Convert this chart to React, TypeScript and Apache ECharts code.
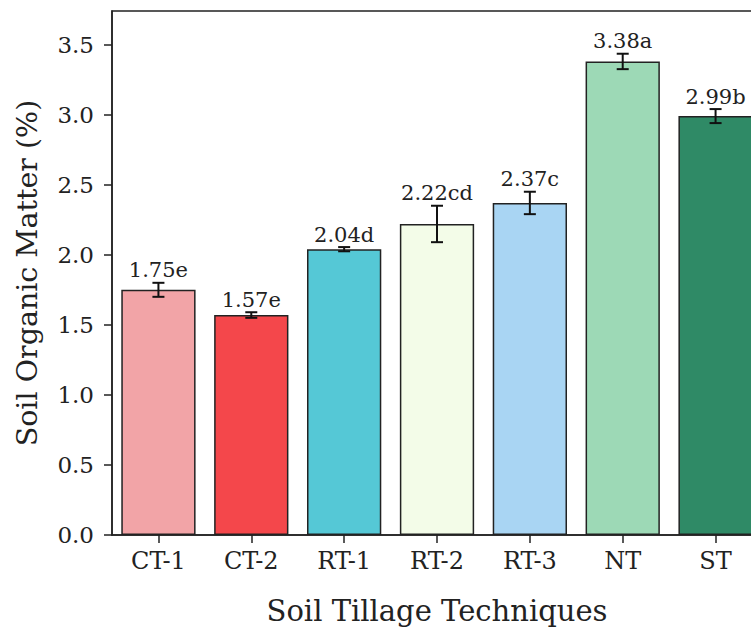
import React, { useEffect, useRef } from "react";
import * as echarts from "echarts";

const categories = ["CT-1", "CT-2", "RT-1", "RT-2", "RT-3", "NT", "ST"];
const means = [1.75, 1.57, 2.04, 2.22, 2.37, 3.38, 2.99];
const errors = [0.05, 0.02, 0.015, 0.13, 0.08, 0.055, 0.05];
const letters = ["e", "e", "d", "cd", "c", "a", "b"];
const colors = ["#F2A4A7", "#F4474B", "#55C8D6", "#F3FCE8", "#A9D5F3", "#9DD9B6", "#2F8A66"];

const FONT = "'DejaVu Serif', 'Liberation Serif', serif";

export default function App() {
  const ref = useRef<HTMLDivElement>(null);
  useEffect(() => {
    if (!ref.current) return;
    const chart = echarts.init(ref.current, undefined, { renderer: "svg" });
    const errData = means.map((m, i) => [i, m, errors[i]]);
    chart.setOption({
      animation: false,
      backgroundColor: "#ffffff",
      grid: {
        left: 112,
        top: 11,
        right: -11,
        bottom: 100,
        outerBoundsMode: "none",
        containLabel: false,
        show: true,
        borderColor: "#222222",
        borderWidth: 1.5,
        backgroundColor: "transparent",
      },
      xAxis: {
        type: "category",
        data: categories,
        boundaryGap: true,
        name: "Soil Tillage Techniques",
        nameLocation: "middle",
        nameGap: 61,
        nameTextStyle: { fontFamily: FONT, fontSize: 29, color: "#222" },
        axisLine: { lineStyle: { color: "#222", width: 1.5 } },
        axisTick: { show: true, alignWithLabel: true, length: 8, lineStyle: { color: "#222", width: 1.5 } },
        axisLabel: { fontFamily: FONT, fontSize: 24, color: "#222", margin: 14 },
        splitLine: { show: false },
      },
      yAxis: {
        type: "value",
        min: 0,
        max: 3.74,
        interval: 0.5,
        name: "Soil Organic Matter (%)",
        nameLocation: "middle",
        nameGap: 70,
        nameTextStyle: { fontFamily: FONT, fontSize: 28.5, color: "#222", padding: [0, 0, 0, 0] },
        axisLine: { show: true, lineStyle: { color: "#222", width: 1.5 } },
        axisTick: { show: true, length: 8, lineStyle: { color: "#222", width: 1.5 } },
        axisLabel: {
          fontFamily: FONT,
          fontSize: 23,
          color: "#222",
          margin: 18,
          showMaxLabel: false,
          formatter: (v: number) => v.toFixed(1),
        },
        splitLine: { show: false },
      },
      series: [
        {
          type: "bar",
          data: means.map((m, i) => ({
            value: m,
            itemStyle: { color: colors[i], borderColor: "#222", borderWidth: 1.5 },
          })),
          barWidth: "80%",
          z: 2,
        },
        {
          type: "custom",
          data: errData,
          z: 5,
          renderItem: (params: any, api: any) => {
            const i = api.value(0);
            const m = api.value(1);
            const e = api.value(2);
            const top = api.coord([i, m + e]);
            const bot = api.coord([i, m - e]);
            const cap = 6;
            const style = { stroke: "#111", lineWidth: 2 };
            return {
              type: "group",
              children: [
                { type: "line", shape: { x1: top[0], y1: top[1], x2: bot[0], y2: bot[1] }, style },
                { type: "line", shape: { x1: top[0] - cap, y1: top[1], x2: top[0] + cap, y2: top[1] }, style },
                { type: "line", shape: { x1: bot[0] - cap, y1: bot[1], x2: bot[0] + cap, y2: bot[1] }, style },
                {
                  type: "text",
                  x: top[0],
                  y: top[1] - 2,
                  style: {
                    text: means[params.dataIndex].toFixed(2) + letters[params.dataIndex],
                    fontFamily: FONT,
                    fontSize: 21,
                    fill: "#222",
                    align: "center",
                    verticalAlign: "bottom",
                  },
                },
              ],
            };
          },
        },
      ],
    });
    return () => chart.dispose();
  }, []);
  return <div ref={ref} style={{ width: 751, height: 635, position: "absolute", left: 0, top: 0 }} />;
}
